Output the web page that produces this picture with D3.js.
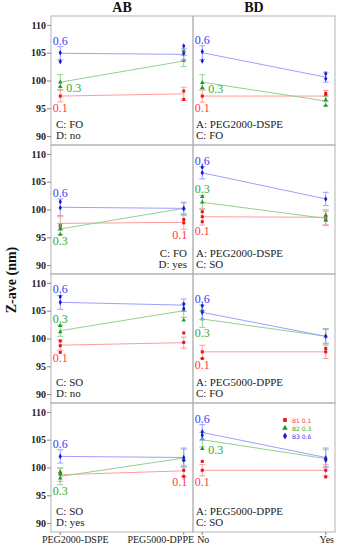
<!DOCTYPE html>
<html>
<head>
<meta charset="utf-8">
<script src="https://cdn.jsdelivr.net/npm/d3@7"></script>
<style>
  body { margin: 0; background: #fff; }
  text { font-family: "Liberation Serif", "Times New Roman", serif; }
  .tick_lab { font-size: 10px; font-weight: bold; fill: #222; }
  .head { font-size: 14px; font-weight: bold; fill: #111; }
  .note { font-size: 11px; fill: #222; }
  .lev { font-size: 12px; }
  .cat { font-size: 10px; fill: #222; }
  .leg { font-family: "DejaVu Sans", sans-serif; font-size: 6px; }
</style>
</head>
<body>
<script>
// canvas
var w = 338;
var h = 550;

// layout: left axis, column split, right edge
var xL = 51;
var xM = 193;
var xR = 335;
var pTop = 16;
var pH = 129;

// data
var levels = ["0.1", "0.3", "0.6"];
var seriesNames = ["B1", "B2", "B3"];
var catAB = ["PEG2000-DSPE", "PEG5000-DPPE"];
var catBD = ["No", "Yes"];
var yTicks = [90, 95, 100, 105, 110];

var noteAB = [["C: FO", "D: no"], ["C: FO", "D: yes"], ["C: SO", "D: no"], ["C: SO", "D: yes"]];
var noteBD = [["A: PEG2000-DSPE", "C: FO"], ["A: PEG2000-DSPE", "C: SO"],
              ["A: PEG5000-DPPE", "C: FO"], ["A: PEG5000-DPPE", "C: SO"]];

// means [panel][series B1,B2,B3][category]
var meanAB = [
  [[97.2, 97.6], [99.7, 103.5], [104.9, 104.7]],
  [[97.5, 97.7], [96.5, 100.2], [100.4, 100.2]],
  [[98.8, 99.25], [101.4, 105.0], [106.5, 106.0]],
  [[98.7, 99.4], [98.4, 101.7], [102.0, 101.8]]
];
var errAB = [
  [[1.05, 1.2], [1.35, 1.0], [1.2, 1.0]],
  [[1.2, 1.25], [1.0, 1.1], [1.5, 1.0]],
  [[0.9, 1.0], [1.0, 1.2], [1.25, 1.1]],
  [[1.2, 1.0], [1.5, 1.6], [1.2, 1.7]]
];
var ptsAB = [
  [[[97.2], [98.1, 96.6]], [[99.7, 98.9], [105.4, 103.6]], [[105.0, 103.4], [106.2, 104.9]]],
  [[[97.3, 96.9], [98.2, 97.6]], [[96.5, 95.5], [100.2]], [[101.4, 100.3], [100.2]]],
  [[[99.55, 98.7, 97.5], [101.0, 99.3]], [[102.3, 101.2], [105.1, 103.3]], [[107.5, 106.5], [106.2, 105.4]]],
  [[[98.9], [99.5, 98.4]], [[99.2, 98.8, 98.1], [101.4]], [[102.0], [101.8, 101.3]]]
];

var meanBD = [
  [[97.2, 97.2], [99.7, 96.3], [105.0, 100.6]],
  [[98.7, 98.6], [101.3, 98.4], [106.6, 101.9]],
  [[97.6, 97.6], [103.5, 100.4], [104.7, 100.4]],
  [[99.5, 99.5], [105.0, 101.6], [106.3, 101.8]]
];
var errBD = [
  [[1.1, 1.0], [1.35, 0.85], [1.25, 0.9]],
  [[1.5, 1.35], [1.25, 1.3], [1.1, 1.2]],
  [[1.2, 1.2], [1.5, 1.4], [1.3, 1.25]],
  [[1.0, 1.0], [1.3, 1.6], [1.4, 1.7]]
];
var ptsBD = [
  [[[97.2], [97.7, 97.3]], [[99.6, 98.7], [96.5, 95.5]], [[105.2, 103.5], [101.2, 100.3]]],
  [[[99.6, 98.7, 97.8], [98.6, 98.1]], [[102.3, 101.3], [99.0, 98.1]], [[107.6, 106.6], [101.9]]],
  [[[97.6, 96.4], [98.2, 97.6]], [[105.1, 103.5], [100.4]], [[105.9, 104.7], [100.4]]],
  [[[101.1, 99.5], [99.5, 98.3]], [[105.2, 103.4], [101.6]], [[106.4, 105.8], [101.7, 101.3]]]
];

// where each level label sits: side of the group and category index
var labSideAB = [["below", "right", "above"], ["below", "below", "above"],
                 ["below", "above", "above"], ["below", "below", "above"]];
var labCatAB = [[0, 0, 0], [1, 0, 0], [0, 0, 0], [1, 0, 0]];
var labSideBD = [["below", "right", "above"], ["below", "above", "above"],
                 ["below", "below", "above"], ["below", "right", "above"]];
var labCatBD = [[0, 0, 0], [0, 0, 0], [0, 0, 0], [0, 0, 0]];

// colours
var colPt = ["#e8141c", "#1f9a2a", "#1a1ad8"];
var colLine = ["#ff9c9c", "#93d093", "#9f9fff"];
var colLab = ["#ff3b3b", "#2eaa2e", "#3a3aff"];
var symTypes = [d3.symbolSquare, d3.symbolTriangle, d3.symbolDiamond];

var svg = d3.select("body")
            .append("svg")
            .attr("width", w)
            .attr("height", h);

// x scales
var xAB = d3.scalePoint().domain(catAB).range([xL, xM]).padding(0.075);
var xBD = d3.scalePoint().domain(catBD).range([xM, xR]).padding(0.075);

var drawCell = function(g, p, xs, cats, mean, err, pts, labSide, labCat, yS) {
    for (var s = 0; s < 3; s++) {
        // mean line
        var line = d3.line()
                     .x(function(d, i) { return xs(cats[i]); })
                     .y(function(d) { return yS(d); });
        g.append("path")
         .attr("d", line(mean[p][s]))
         .attr("fill", "none")
         .attr("stroke", colLine[s])
         .attr("stroke-width", 1);

        for (var c = 0; c < 2; c++) {
            var cx = xs(cats[c]);
            var m = mean[p][s][c];
            var e = err[p][s][c];
            // error bar
            g.append("line")
             .attr("x1", cx).attr("x2", cx)
             .attr("y1", yS(m - e)).attr("y2", yS(m + e))
             .attr("stroke", colLine[s]).attr("stroke-width", 1);
            [m - e, m + e].forEach(function(v) {
                g.append("line")
                 .attr("x1", cx - 3).attr("x2", cx + 3)
                 .attr("y1", yS(v)).attr("y2", yS(v))
                 .attr("stroke", colLine[s]).attr("stroke-width", 1);
            });
            // replicate points
            pts[p][s][c].forEach(function(v) {
                g.append("path")
                 .attr("d", d3.symbol().type(symTypes[s]).size(9)())
                 .attr("transform", "translate(" + cx + "," + yS(v) + ")")
                 .attr("fill", colPt[s]);
            });
        }

        // level label
        var lc = labCat[p][s];
        var lx = xs(cats[lc]);
        var vals = pts[p][s][lc].concat([mean[p][s][lc] - err[p][s][lc], mean[p][s][lc] + err[p][s][lc]]);
        var t = g.append("text")
                 .attr("class", "lev")
                 .attr("fill", colLab[s])
                 .text(levels[s]);
        if (labSide[p][s] === "above") {
            t.attr("x", lx).attr("y", yS(d3.max(vals)) - 2).attr("text-anchor", "middle");
        } else if (labSide[p][s] === "below") {
            t.attr("x", lc === 1 ? lx - 4 : lx).attr("y", yS(d3.min(vals)) + 10).attr("text-anchor", "middle");
        } else {
            t.attr("x", lx + 6).attr("y", yS(d3.min(pts[p][s][lc])) + 5).attr("text-anchor", "start");
        }
    }
};

for (var p = 0; p < 4; p++) {
    var pY = pTop + p * pH;
    var yS = d3.scaleLinear().domain([88.4, 111.6]).range([pY + pH, pY]);

    // frames
    svg.append("rect")
       .attr("x", xL).attr("y", pY).attr("width", xM - xL).attr("height", pH)
       .attr("fill", "none").attr("stroke", "#b4b4b4").attr("stroke-width", 1);
    svg.append("rect")
       .attr("x", xM).attr("y", pY).attr("width", xR - xM).attr("height", pH)
       .attr("fill", "none").attr("stroke", "#b4b4b4").attr("stroke-width", 1);

    // y axis
    var ax = svg.append("g")
                .attr("transform", "translate(" + xL + ",0)")
                .call(d3.axisLeft(yS).tickValues(yTicks).tickSize(4).tickPadding(1));
    ax.select(".domain").remove();
    ax.selectAll("line").attr("stroke", "#888");
    ax.attr("font-family", null).attr("font-size", null);
    ax.selectAll("text").attr("class", "tick_lab");

    var gA = svg.append("g");
    var gB = svg.append("g");
    drawCell(gA, p, xAB, catAB, meanAB, errAB, ptsAB, labSideAB, labCatAB, yS);
    drawCell(gB, p, xBD, catBD, meanBD, errBD, ptsBD, labSideBD, labCatBD, yS);

    // notes
    var bot = pY + pH;
    for (var k = 0; k < 2; k++) {
        var rightAl = (p === 1);
        svg.append("text")
           .attr("class", "note")
           .attr("x", rightAl ? 187 : xL + 5)
           .attr("y", bot - 17.5 + k * 11.5)
           .attr("text-anchor", rightAl ? "end" : "start")
           .text(noteAB[p][k]);
        svg.append("text")
           .attr("class", "note")
           .attr("x", xM + 3)
           .attr("y", bot - 17.5 + k * 11.5)
           .text(noteBD[p][k]);
    }
}

// x ticks and labels at the bottom
var yBot = pTop + 4 * pH;
var catShift = [15, -23];
catAB.forEach(function(c, i) {
    svg.append("line")
       .attr("x1", xAB(c)).attr("x2", xAB(c))
       .attr("y1", yBot).attr("y2", yBot + 3)
       .attr("stroke", "#888");
    svg.append("text")
       .attr("class", "cat")
       .attr("x", xAB(c) + catShift[i])
       .attr("y", yBot + 11)
       .attr("text-anchor", "middle")
       .text(c);
});
catBD.forEach(function(c) {
    svg.append("line")
       .attr("x1", xBD(c)).attr("x2", xBD(c))
       .attr("y1", yBot).attr("y2", yBot + 3)
       .attr("stroke", "#888");
    svg.append("text")
       .attr("class", "cat")
       .attr("x", xBD(c) + 1)
       .attr("y", yBot + 11)
       .attr("text-anchor", "middle")
       .text(c);
});

// column headers
svg.append("text").attr("class", "head").attr("x", 122).attr("y", 12)
   .attr("text-anchor", "middle").text("AB");
svg.append("text").attr("class", "head").attr("x", 254).attr("y", 12)
   .attr("text-anchor", "middle").text("BD");

// y title
svg.append("text")
   .attr("class", "head")
   .attr("font-size", "13px")
   .attr("transform", "translate(16,280) rotate(-90)")
   .attr("text-anchor", "middle")
   .text("Z-ave (nm)");

// legend
var legX = 285;
var legY = [420, 428, 436];
for (var s = 0; s < 3; s++) {
    svg.append("path")
       .attr("d", d3.symbol().type(symTypes[s]).size(14)())
       .attr("transform", "translate(" + legX + "," + legY[s] + ")")
       .attr("fill", colPt[s]);
    svg.append("text")
       .attr("class", "leg")
       .attr("x", legX + 7)
       .attr("y", legY[s] + 2.5)
       .attr("fill", colLab[s])
       .text(seriesNames[s] + " " + levels[s]);
}
</script>
</body>
</html>
